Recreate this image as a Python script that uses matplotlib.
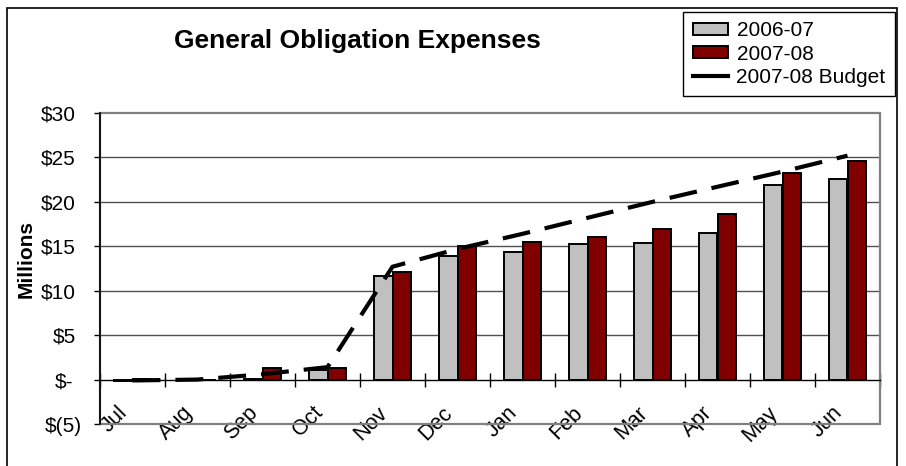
import matplotlib
matplotlib.use("Agg")
import matplotlib.pyplot as plt
import matplotlib.transforms as mtransforms
from matplotlib.patches import Rectangle, Patch
from matplotlib.lines import Line2D
import numpy as np

months = ["Jul", "Aug", "Sep", "Oct", "Nov", "Dec", "Jan", "Feb", "Mar", "Apr", "May", "Jun"]
fy0607 = [-0.2, 0.0, 0.1, 1.1, 11.6, 13.9, 14.4, 15.3, 15.4, 16.5, 21.9, 22.6]
fy0708 = [0.1, 0.0, 1.3, 1.3, 12.1, 15.0, 15.5, 16.1, 17.0, 18.6, 23.3, 24.6]
budget = [-0.1, 0.0, 0.6, 1.4, 12.7, 14.7, 16.4, 18.2, 20.0, 21.7, 23.4, 25.2]
yticks = [-5, 0, 5, 10, 15, 20, 25, 30]
ytick_labels = ["$(5)", "$-", "$5", "$10", "$15", "$20", "$25", "$30"]

plt.rcParams['font.family'] = ['Liberation Sans', 'DejaVu Sans']

W, H = 906, 466
fig = plt.figure(figsize=(W / 100, H / 100), dpi=100)
fig.patch.set_facecolor('white')

# outer chart frame
fig.add_artist(Rectangle((7 / W, 1 - 468 / H), (897 - 7) / W, (468 - 8) / H,
                         transform=fig.transFigure, fill=False, edgecolor='black',
                         linewidth=1.2, clip_on=False))

left, right, top, bottom = 100, 880, 113, 424
ax = fig.add_axes([left / W, 1 - bottom / H, (right - left) / W, (bottom - top) / H])

x = np.arange(len(months))
bw = 0.292
ax.bar(x - bw / 2, fy0607, width=bw, color='#C0C0C0', edgecolor='black', linewidth=1.4, zorder=3, label='2006-07')
ax.bar(x + bw / 2, fy0708, width=bw, color='#800000', edgecolor='black', linewidth=1.4, zorder=3, label='2007-08')
ax.plot(x, budget, color='black', linewidth=3, dashes=(6.7, 3.6), dash_capstyle='butt', zorder=4, label='2007-08 Budget')

ax.set_xlim(-0.5, len(months) - 0.5)
ax.set_ylim(-5, 30)

# grid
ax.set_yticks(yticks)
for yv in yticks:
    if 0 < yv < 30:
        ax.axhline(yv, color='#505050', linewidth=1.0, zorder=1)

for s in ['top', 'right']:
    ax.spines[s].set_visible(False)
ax.spines['bottom'].set_position(('data', 0))
ax.spines['bottom'].set_color('black')
ax.spines['bottom'].set_linewidth(1.0)
ax.spines['left'].set_color('black')
ax.spines['left'].set_linewidth(1.2)
ax.spines['bottom'].set_zorder(5)

# plot area border (gray)
ax.add_patch(Rectangle((0, 0), 1, 1, transform=ax.transAxes, fill=False,
                       edgecolor='#808080', linewidth=1.6, zorder=2, clip_on=False))

# x ticks: boundaries (major) and labels at centers (minor)
ax.set_xticks(np.arange(-0.5, len(months), 1.0))
ax.set_xticklabels([])
ax.set_xticks(x, minor=True)
ax.set_xticklabels(months, minor=True, fontsize=15.5, rotation=45,
                   ha='right', va='top', rotation_mode='anchor')
ax.tick_params(axis='x', which='major', direction='inout', length=9.5, width=1.0, color='black')
ax.tick_params(axis='x', which='minor', length=0, pad=16.5)
offset = mtransforms.ScaledTranslation(-11 / 72, 0, fig.dpi_scale_trans)
for lab in ax.get_xticklabels(minor=True):
    lab.set_transform(lab.get_transform() + offset)

ax.set_yticklabels(ytick_labels, fontsize=15)
ax.tick_params(axis='y', direction='out', length=4.3, width=1.0, color='black')
pads = {"$(5)": 8.6, "$-": 15.0}
for tk, lb in zip(ax.yaxis.get_major_ticks(), ytick_labels):
    tk.set_pad(pads.get(lb, 13.0))

# y label
fig.text(26 / W, 1 - 259 / H, "Millions", rotation=90, fontsize=15, fontweight='bold',
         ha='center', va='center')

# title
fig.text(357.5 / W, 1 - 41 / H, "General Obligation Expenses", fontsize=19, fontweight='bold',
         ha='center', va='center')

# legend
handles = [Patch(facecolor='#C0C0C0', edgecolor='black', linewidth=1.4),
           Patch(facecolor='#800000', edgecolor='black', linewidth=1.4),
           Line2D([0], [0], color='black', linewidth=3)]
leg = fig.legend(handles, ['2006-07', '2007-08', '2007-08 Budget'],
                 loc='upper right', bbox_to_anchor=(895 / W, 1 - 12 / H),
                 fontsize=15, frameon=True, fancybox=False, edgecolor='black',
                 framealpha=1, borderpad=0.45, labelspacing=0.2, handlelength=1.7,
                 handleheight=0.5, handletextpad=0.4, borderaxespad=0)
leg.get_frame().set_linewidth(1.0)

fig.savefig('out.png', dpi=100)
